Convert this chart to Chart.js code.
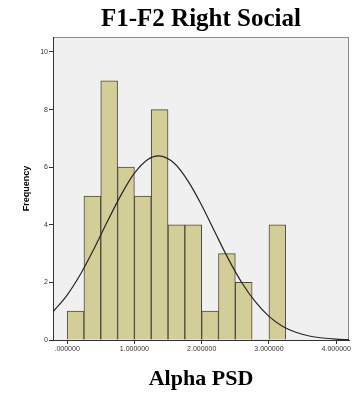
<!DOCTYPE html>
<html>
<head>
<meta charset="utf-8">
<script src="https://cdn.jsdelivr.net/npm/chart.js@4"></script>
<style>
  html, body { margin: 0; padding: 0; background: #fff; }
  canvas { display: block; }
</style>
</head>
<body>
<canvas id="histChart" width="354" height="395"></canvas>
<script>
// Histogram data (bin width 0.25)
const binCenters = [0.125, 0.375, 0.625, 0.875, 1.125, 1.375, 1.625, 1.875, 2.125, 2.375, 2.625, 2.875, 3.125];
const counts = [1, 5, 9, 6, 5, 8, 4, 4, 1, 3, 2, 0, 4];

// Normal curve
const curveX = [-0.21, 0, 0.2, 0.4, 0.6, 0.8, 1.0, 1.2, 1.36, 1.6, 1.8, 2.0, 2.2, 2.4, 2.6, 2.8, 3.0, 3.2, 3.4, 3.6, 3.8, 4.0, 4.19];
const curveY = [0.98, 1.56, 2.29, 3.17, 4.12, 5.03, 5.79, 6.27, 6.39, 6.12, 5.51, 4.68, 3.73, 2.80, 1.98, 1.32, 0.82, 0.48, 0.27, 0.14, 0.07, 0.03, 0.01];

const xTicks = [0, 1, 2, 3, 4];
const yTicks = [0, 2, 4, 6, 8, 10];

// Plot background and frame
const plotFrame = {
  id: 'plotFrame',
  beforeDraw(chart) {
    const { ctx, chartArea: a } = chart;
    ctx.save();
    ctx.fillStyle = '#f0f0f0';
    ctx.fillRect(a.left, a.top, a.right - a.left, a.bottom - a.top);
    ctx.strokeStyle = '#8a8a8a';
    ctx.lineWidth = 1;
    ctx.strokeRect(a.left + 0.5, a.top + 0.5, a.right - a.left - 1, a.bottom - a.top);
    ctx.restore();
  }
};

new Chart(document.getElementById('histChart'), {
  data: {
    datasets: [
      {
        type: 'line',
        data: curveX.map((x, i) => ({ x, y: curveY[i] })),
        borderColor: '#262626',
        borderWidth: 1.2,
        pointRadius: 0,
        cubicInterpolationMode: 'monotone',
        fill: false
      },
      {
        type: 'bar',
        data: binCenters.map((x, i) => ({ x, y: counts[i] })),
        backgroundColor: '#d3ce98',
        borderColor: '#4a4a3e',
        borderWidth: ctx => (ctx.raw && ctx.raw.y > 0 ? 1 : 0),
        barPercentage: 1,
        categoryPercentage: 1
      }
    ]
  },
  options: {
    responsive: false,
    animation: false,
    devicePixelRatio: 1,
    layout: { padding: { left: 0, right: 5, top: 0, bottom: 0 } },
    plugins: {
      legend: { display: false },
      tooltip: { enabled: false },
      title: {
        display: true,
        fullSize: false,
        text: 'F1-F2 Right Social',
        color: '#000',
        font: { family: 'Liberation Serif', size: 25, weight: 'bold', lineHeight: 1.2 },
        padding: { top: 5, bottom: 2 }
      }
    },
    scales: {
      x: {
        type: 'linear',
        offset: false,
        min: -0.21,
        max: 4.19,
        afterBuildTicks: s => { s.ticks = xTicks.map(v => ({ value: v })); },
        afterFit: s => { s.height = 55; s.paddingLeft = 0; s.paddingRight = 0; },
        ticks: {
          color: '#333',
          font: { family: 'Liberation Sans', size: 7 },
          padding: 1,
          maxRotation: 0,
          callback: v => (v === 0 ? '.000000' : v.toFixed(6))
        },
        grid: { offset: false, drawOnChartArea: false, drawTicks: true, tickLength: 4, color: '#333' },
        border: { display: true, color: '#333' },
        title: {
          display: true,
          text: 'Alpha PSD',
          color: '#000',
          font: { family: 'Liberation Serif', size: 22, weight: 'bold', lineHeight: 1.2 },
          padding: { top: 0, bottom: 2.3 }
        }
      },
      y: {
        type: 'linear',
        min: 0,
        max: 10.52,
        afterBuildTicks: s => { s.ticks = yTicks.map(v => ({ value: v })); },
        afterFit: s => { s.width = 53; s.paddingTop = 0; s.paddingBottom = 0; },
        ticks: {
          color: '#333',
          font: { family: 'Liberation Sans', size: 7 },
          padding: 1
        },
        grid: { drawOnChartArea: false, drawTicks: true, tickLength: 4, color: '#333' },
        border: { display: true, color: '#333' },
        title: {
          display: true,
          text: 'Frequency',
          color: '#000',
          font: { family: 'Liberation Sans', size: 9, weight: 'bold', lineHeight: 1.2 },
          padding: { top: 21.6, bottom: 0 }
        }
      }
    }
  },
  plugins: [plotFrame]
});
</script>
</body>
</html>
